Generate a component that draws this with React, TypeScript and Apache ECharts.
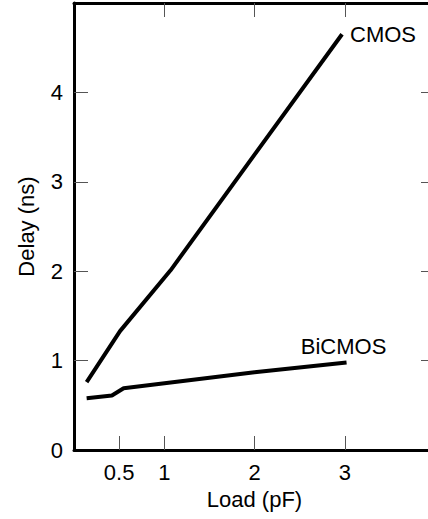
import React, { useEffect, useRef } from "react";
import * as echarts from "echarts";

const cmos: [number, number][] = [
  [0.14, 0.76],
  [0.51, 1.33],
  [1.07, 2.01],
  [2.97, 4.65],
];
const bicmos: [number, number][] = [
  [0.14, 0.58],
  [0.42, 0.61],
  [0.55, 0.69],
  [2, 0.87],
  [3.02, 0.98],
];
const xTicks = [0.5, 1, 2, 3];
const xTopTicks = [1, 2, 3];
const yTicks = [1, 2, 3, 4];
const yLabels = [0, 1, 2, 3, 4];

const FONT = "Liberation Sans";

export default function App() {
  const ref = useRef<HTMLDivElement>(null);
  useEffect(() => {
    if (!ref.current) return;
    const chart = echarts.init(ref.current, null, { renderer: "svg" });
    const tickStyle = { color: "#555", width: 1 };
    chart.setOption({
      animation: false,
      backgroundColor: "#fff",
      grid: { left: 74, top: 3, width: 361, height: 447 },
      xAxis: [
        {
          type: "value",
          min: 0,
          max: 4,
          position: "bottom",
          name: "Load (pF)",
          nameLocation: "middle",
          nameGap: 38,
          nameTextStyle: { fontFamily: FONT, fontSize: 22, color: "#000" },
          axisLine: { show: true, onZero: false, lineStyle: { color: "#000", width: 3 } },
          axisTick: { show: true, inside: true, length: 14, lineStyle: tickStyle, customValues: xTicks },
          axisLabel: { show: true, fontFamily: FONT, fontSize: 22, color: "#000", margin: 11, customValues: xTicks },
          splitLine: { show: false },
        },
        {
          type: "value",
          min: 0,
          max: 4,
          position: "top",
          axisLine: { show: true, onZero: false, lineStyle: { color: "#000", width: 3 } },
          axisTick: { show: true, inside: true, length: 14, lineStyle: tickStyle, customValues: xTopTicks },
          axisLabel: { show: false },
          splitLine: { show: false },
        },
      ],
      yAxis: [
        {
          type: "value",
          min: 0,
          max: 5,
          position: "left",
          name: "Delay (ns)",
          nameLocation: "middle",
          nameGap: 37,
          nameTextStyle: { fontFamily: FONT, fontSize: 22, color: "#000" },
          axisLine: { show: true, onZero: false, lineStyle: { color: "#000", width: 3 } },
          axisTick: { show: true, inside: true, length: 14, lineStyle: tickStyle, customValues: yTicks },
          axisLabel: { show: true, fontFamily: FONT, fontSize: 22, color: "#000", margin: 11, customValues: yLabels },
          splitLine: { show: false },
        },
        {
          type: "value",
          min: 0,
          max: 5,
          position: "right",
          axisLine: { show: true, onZero: false, lineStyle: { color: "#000", width: 3 } },
          axisTick: { show: true, inside: true, length: 14, lineStyle: tickStyle, customValues: yTicks },
          axisLabel: { show: false },
          splitLine: { show: false },
        },
      ],
      series: [
        {
          type: "line",
          name: "CMOS",
          data: cmos,
          symbol: "none",
          lineStyle: { color: "#000", width: 4 },
          endLabel: {
            show: true,
            formatter: "CMOS",
            distance: 8,
            fontFamily: FONT,
            fontSize: 22,
            color: "#000",
          },
        },
        {
          type: "line",
          name: "BiCMOS",
          data: bicmos,
          symbol: "none",
          lineStyle: { color: "#000", width: 4 },
          endLabel: {
            show: true,
            formatter: "BiCMOS",
            distance: 0,
            align: "center",
            verticalAlign: "middle",
            offset: [-3, -16],
            fontFamily: FONT,
            fontSize: 22,
            color: "#000",
          },
        },
      ],
    });
    return () => chart.dispose();
  }, []);
  return (
    <div
      style={{ position: "fixed", left: 0, top: 0, width: 428, height: 519, overflow: "hidden", background: "#fff" }}
    >
      <div ref={ref} style={{ width: 445, height: 519 }} />
    </div>
  );
}
